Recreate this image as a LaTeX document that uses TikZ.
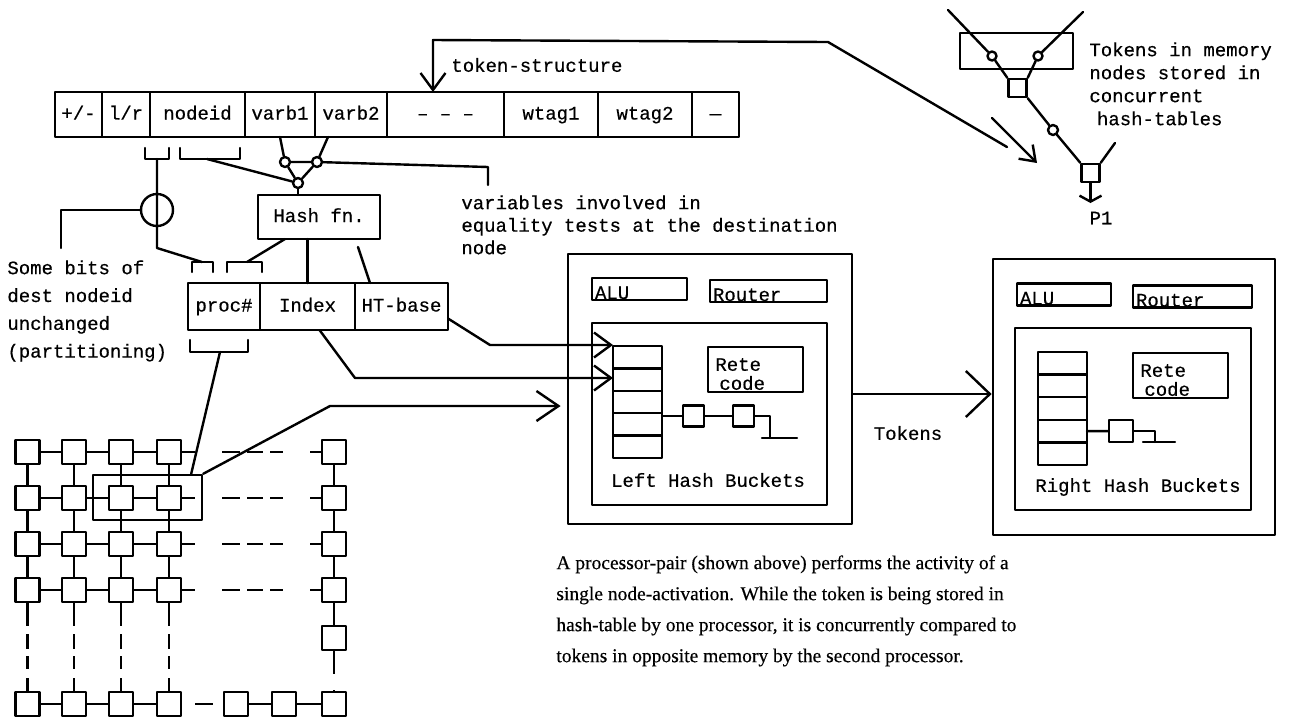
\documentclass[tikz,border=0pt]{standalone}
\usepackage{fontspec}
\setmonofont[FakeBold=0.5]{Liberation Mono}
\newfontfamily\captfont[FakeBold=0.4]{Liberation Serif}
\usetikzlibrary{arrows.meta,positioning}

\begin{document}
\begin{tikzpicture}[x=0.5pt, y=-0.5pt, line cap=round, line join=round,
    every node/.style={font=\ttfamily\fontsize{9.5}{11.5}\selectfont},
    wire/.style={line width=1.2pt},
    cell/.style={draw, line width=1.2pt, outer sep=0pt, inner sep=0pt,
      minimum height=22.5pt, text height=7pt, text depth=2pt},
    unit/.style={draw, line width=1.2pt, outer sep=0pt, inner xsep=1.5pt,
      inner ysep=0pt, text height=10.5pt, text depth=0.5pt, align=left},
    frame/.style={draw, line width=1.4pt, inner sep=0pt},
    pe/.style={draw, line width=1.2pt, minimum size=12pt, inner sep=0pt},
    tap/.style={draw, circle, line width=1.2pt, inner sep=0pt, minimum size=5pt},
    lbl/.style={inner sep=0pt, align=left},
    rowdash/.style={line cap=butt, dash pattern=on 6.5pt off 13.5pt on 9pt off 3.5pt
      on 8pt off 3.5pt on 6.5pt off 13.5pt on 6.5pt off 20pt},
    coldash/.style={line cap=butt, dash pattern=on 11.5pt off 4pt on 7.5pt off 3.5pt
      on 6.5pt off 4.5pt on 7.5pt off 20pt},
    smallv/.tip={Straight Barb[length=8.5pt, width=12.5pt]},
    midv/.tip={Straight Barb[length=11pt, width=15pt]},
    bigv/.tip={Straight Barb[length=12pt, width=23pt]},
    tinyv/.tip={Straight Barb[length=3pt, width=11pt]}]
  \useasboundingbox (0,0) rectangle (1311,719);

  % token structure
  \node[cell, minimum width=23.5pt, anchor=west] (sign) at (55,114.5) {+/-};
  \node[cell, minimum width=24pt, right=0pt of sign] (side) {l/r};
  \node[cell, minimum width=47.5pt, right=0pt of side] (nodeid) {nodeid};
  \node[cell, minimum width=35pt, right=0pt of nodeid] (varb1) {varb1};
  \node[cell, minimum width=36pt, right=0pt of varb1] (varb2) {varb2};
  \node[cell, minimum width=58.5pt, right=0pt of varb2] (rest) {– – –};
  \node[cell, minimum width=47pt, right=0pt of rest] (wtag1) {wtag1};
  \node[cell, minimum width=47pt, right=0pt of wtag1] (wtag2) {wtag2};
  \node[cell, minimum width=23.5pt, right=0pt of wtag2] (last) {—};
  \node[lbl, anchor=west] (tslbl) at (451,65) {token-structure};

  \coordinate (tsfar) at (1007,147);
  \coordinate (tsbend) at (828,42);
  \coordinate (tstop) at (433,40);
  \draw[wire, -{smallv}] (tsfar) -- (tsbend) -- (tstop) -- (tstop |- rest.north);
  \coordinate (nwa) at (992,118);
  \coordinate (nwb) at (1037,163);
  \draw[wire, -{Straight Barb[length=7pt, width=10pt]}] (nwa) -- (nwb);

  % memory nodes, top right
  \node[cell, minimum width=56.5pt, minimum height=18pt] (mem) at (1016.5,51) {};
  \node[tap, minimum size=4.5pt] (mc1) at (992,56) {};
  \node[tap, minimum size=4.5pt] (mc2) at (1038,56) {};
  \node[pe, minimum size=9pt] (jn1) at (1017.5,88) {};
  \node[tap] (mc3) at (1053,130) {};
  \node[pe, minimum size=9pt] (jn2) at (1090.5,173) {};
  \coordinate (inL) at (948,10);
  \coordinate (inR) at (1083,12);
  \coordinate (inR2) at (1115,143);
  \coordinate (p1out) at (1090.5,203);
  \draw[wire] (inL) -- (mc1) -- (jn1.north west);
  \draw[wire] (inR) -- (mc2) -- (jn1.north east);
  \draw[wire] (jn1.south east) -- (mc3) -- (jn2.north west);
  \draw[wire] (jn2.north east) -- (inR2);
  \draw[wire, -{tinyv}] (jn2) -- (p1out);
  \node (p1) at (1101,218) {P1};
  \node[lbl, anchor=north west] (memlbl) at (1089,42)
    {Tokens in memory\\nodes stored in\\concurrent\\\hspace*{0.4em}hash-tables};

  % hashing of the destination
  \draw[wire] (145,148) -- (145,159) -- (169,159) -- (169,148);
  \draw[wire] (180,148) -- (180,159) -- (240,159) -- (240,148);
  \coordinate (br1) at (157,159);
  \coordinate (br2) at (207,159);
  \node[tap, minimum size=16pt] (bitc) at (157,210) {};
  \node[tap] (vt1) at (285,162) {};
  \node[tap] (vt2) at (317,162) {};
  \node[tap] (hin) at (298,183) {};
  \coordinate (varbend) at (488,167);
  \coordinate (varend) at (488,185);
  \draw[wire] (varb1.south) -- (vt1) -- (hin);
  \draw[wire] ([xshift=6.5pt]varb2.south west) -- (vt2) -- (hin);
  \draw[wire] (vt1) -- (vt2) -- (varbend) -- (varend);
  \draw[wire] (br2) -- (hin);
  \node[lbl, anchor=north west, font=\ttfamily\fontsize{9.5}{11.25}\selectfont] (varlbl)
    at (461,195) {variables involved in\\equality tests at the destination\\node};

  \node[cell, minimum width=61pt, minimum height=22pt] (hashfn) at (319,217) {Hash fn.};
  \draw[wire] (hin) -- (hin |- hashfn.north);

  \node[cell, minimum width=36pt, minimum height=23.5pt, anchor=west] (proc) at (188,306.5) {proc\#};
  \node[cell, minimum width=47.5pt, minimum height=23.5pt, right=0pt of proc] (index) {Index};
  \node[cell, minimum width=46.5pt, minimum height=23.5pt, right=0pt of index] (htbase) {HT-base};

  \draw[wire] (192,272) -- (192,262) -- (213,262) -- (213,272);
  \draw[wire] (227,272) -- (227,262) -- (262,262) -- (262,272);
  \draw[wire] (190,340) -- (190,352) -- (248,352) -- (248,340);
  \coordinate (br3) at (202,262);
  \coordinate (br4) at (247,262);
  \coordinate (br5) at (220,352);
  \coordinate (bitlow) at (157,248);
  \coordinate (bitleft) at (61,248);
  \draw[wire] (br1) -- (bitlow) -- (br3);
  \draw[wire] (bitc.west) -| (bitleft);
  \draw[wire] ([xshift=-17pt]hashfn.south) -- (br4);
  \draw[wire] ([xshift=-5.75pt]hashfn.south) -- (index.north);
  \draw[wire] ([xshift=19.5pt,yshift=-4pt]hashfn.south) -- ([xshift=7.5pt]htbase.north west);
  \node[lbl, anchor=north west, font=\ttfamily\fontsize{9.5}{13.9}\selectfont] (bitlbl)
    at (7,260) {Some bits of\\dest nodeid\\unchanged\\(partitioning)};

  % processor array
  \foreach \r/\yy in {1/452,2/498,3/544,4/590}
    \foreach \c/\xx in {1/27.5,2/74,3/121,4/169}
      \node[pe] (g\r\c) at (\xx,\yy) {};
  \foreach \r/\yy in {1/452,2/498,3/544,4/590,5/638}
    \node[pe] (g\r5) at (334,\yy) {};
  \foreach \c/\xx in {1/27.5,2/74,3/121,4/169,5/236,6/284,7/334}
    \node[pe] (b\c) at (\xx,704) {};
  \foreach \r in {1,...,4} {
    \draw[wire] (g\r1) -- (g\r2) -- (g\r3) -- (g\r4);
    \draw[wire, rowdash] (g\r4) -- (g\r5);
  }
  \foreach \c in {1,...,4} {
    \draw[wire] (g1\c) -- (g2\c) -- (g3\c) -- (g4\c);
    \draw[wire, coldash] (g4\c) -- (b\c);
  }
  \draw[wire] (g15) -- (g25) -- (g35) -- (g45) -- (g55);
  \draw[wire, line cap=butt, dash pattern=on 11.5pt off 8pt on 2pt off 20pt] (g55) -- (b7);
  \draw[wire] (b1) -- (b2) -- (b3) -- (b4);
  \draw[wire, line cap=butt, dash pattern=on 9pt off 5pt on 2.5pt off 6.5pt,
    dash phase=16.5pt] (b4) -- (b5);
  \draw[wire] (b5) -- (b6) -- (b7);
  \node[draw, line width=1.2pt, inner sep=0pt, minimum width=54.5pt, minimum height=22.5pt]
    (submat) at (147.5,497.5) {};
  \draw[wire] (br5) -- ([xshift=-6pt]submat.north east);

  % left processor
  \node[frame, minimum width=142pt, minimum height=135pt] (proc1) at (710,389) {};
  \node[unit, text width=44.5pt] (alu1) at (639.5,289) {ALU};
  \node[unit, text width=55.5pt] (rtr1) at (768.5,291) {Router};
  \node[frame, minimum width=117.5pt, minimum height=91pt] (mem1) at (709.5,414) {};
  \foreach \k/\yy in {1/357.2,2/379.6,3/402,4/424.4,5/446.8}
    \node[cell, minimum width=24.5pt, minimum height=11.2pt] (bl\k) at (637.5,\yy) {};
  \node[cell, minimum width=47.5pt, minimum height=22.5pt] (rete1) at (755.5,369.5) {};
  \node[lbl, anchor=south west, font=\ttfamily\fontsize{9.5}{9.5}\selectfont] (retetx1)
    at ([xshift=3.5pt,yshift=0.8pt]rete1.south west) {Rete\\\hspace*{2pt}code};
  \node[pe, minimum size=10.5pt] (q11) at (693.5,416) {};
  \node[pe, minimum size=10.5pt] (q12) at (743.5,416) {};
  \coordinate (nil1) at (770,438);
  \draw[wire] (q11.west -| bl4.east) -- (q11) -- (q12);
  \draw[wire] (q12.east) -| (nil1);
  \draw[wire] ([xshift=-4pt]nil1) -- ([xshift=13.5pt]nil1);
  \node (lhb) at (708,480) {Left Hash Buckets};

  \coordinate (ixbend) at (355,378);
  \coordinate (htbend) at (490,345);
  \coordinate (gridbend) at (330,406);
  \draw[wire, -{smallv}] ([xshift=6pt]index.south) -- (ixbend) -- (ixbend -| bl1.west);
  \draw[wire, -{smallv}] ([yshift=-6pt]htbase.east) -- (htbend) -- (htbend -| bl1.west);
  \draw[wire, -{midv}, shorten >=3pt] (submat.north east) -- (gridbend) -- (gridbend -| proc1.west);

  % right processor
  \node[frame, minimum width=141pt, minimum height=138pt] (proc2) at (1134,397) {};
  \node[unit, text width=44pt] (alu2) at (1064,294.5) {ALU};
  \node[unit, text width=56.5pt] (rtr2) at (1192.5,296.5) {Router};
  \node[frame, minimum width=118pt, minimum height=91pt] (mem2) at (1133,419) {};
  \foreach \k/\yy in {1/363.3,2/385.9,3/408.5,4/431.1,5/453.7}
    \node[cell, minimum width=24.5pt, minimum height=11.3pt] (br\k) at (1062.5,\yy) {};
  \node[cell, minimum width=47.5pt, minimum height=22.5pt] (rete2) at (1180.5,375.5) {};
  \node[lbl, anchor=south west, font=\ttfamily\fontsize{9.5}{9.5}\selectfont] (retetx2)
    at ([xshift=3.5pt,yshift=0.8pt]rete2.south west) {Rete\\\hspace*{2pt}code};
  \node[pe, minimum width=12pt, minimum height=11pt] (q21) at (1121,431) {};
  \coordinate (nil2) at (1155,442);
  \draw[wire] (br4.east) -- (q21);
  \draw[wire] (q21.east) -| (nil2);
  \draw[wire] ([xshift=-6pt]nil2) -- ([xshift=10pt]nil2);
  \node (rhb) at (1138,487) {Right Hash Buckets};

  \draw[wire, -{bigv}] ([yshift=-2.5pt]proc1.east) -- ([yshift=-2.5pt]proc1.east -| proc2.west);
  \node (tok) at (908,433) {Tokens};

  \node[lbl, anchor=north west, font=\captfont\fontsize{9.75}{15.5}\selectfont] (capt) at (556,555)
    {A processor-pair (shown above) performs the activity of a\\
     single node-activation. While the token is being stored in\\
     hash-table by one processor, it is concurrently compared to\\
     tokens in opposite memory by the second processor.};
\end{tikzpicture}
\end{document}
